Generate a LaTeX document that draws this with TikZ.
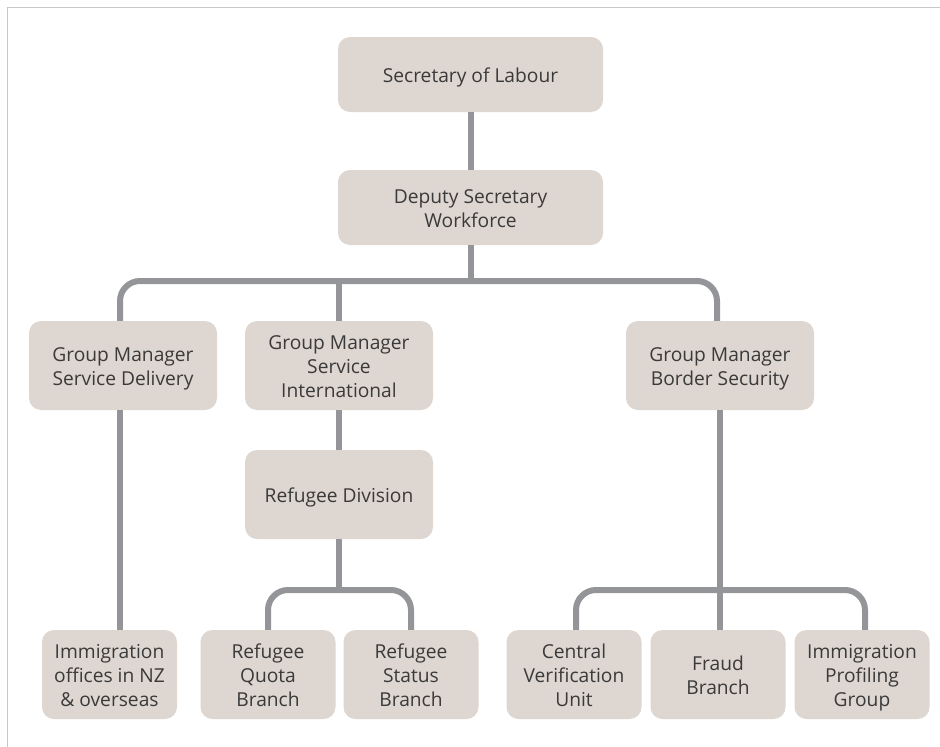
\documentclass[tikz,border=0pt]{standalone}
\usepackage{fontspec}
\setmainfont{Open Sans}
\definecolor{boxfill}{HTML}{DED6D0}
\definecolor{linegray}{HTML}{939598}
\definecolor{framegray}{HTML}{C8C8C8}
\definecolor{txt}{HTML}{3A3A3A}
\newcommand\boxtxt[1]{\raisebox{-3.5pt}[\height][\depth]{\begin{tabular}{@{}c@{}}#1\end{tabular}}}
\begin{document}
\begin{tikzpicture}[x=1pt,y=-1pt,
  orgbox/.style={fill=boxfill, rounded corners=12pt, inner sep=0pt, align=center,
    text=txt, font=\fontsize{19.2}{24}\selectfont},
  wide/.style={minimum width=265pt, minimum height=75pt},
  mid/.style={minimum width=188pt, minimum height=89pt},
  small/.style={minimum width=135pt, minimum height=89pt},
  conn/.style={draw=linegray, line width=6pt},
  bus/.style={conn, rounded corners=20pt}]
\useasboundingbox (0,0) rectangle (940,747);
\draw[framegray, line width=1.2pt] (7.5,747) -- (7.5,7.5) -- (940,7.5);

\node[orgbox,wide] (sec) at (470.5,74.5) {\boxtxt{Secretary of Labour}};
\node[orgbox,wide] (dep) at (470.5,207.5) {\boxtxt{Deputy Secretary\\Workforce}};
\node[orgbox,mid] (gmsd) at (123,365.5) {\boxtxt{Group Manager\\Service Delivery}};
\node[orgbox,mid] (gmsi) at (339,365.5) {\boxtxt{Group Manager\\Service\\International}};
\node[orgbox,mid] (gmbs) at (720,365.5) {\boxtxt{Group Manager\\Border Security}};
\node[orgbox,mid] (rdiv) at (339,494.5) {\boxtxt{Refugee Division}};
\node[orgbox,small] (off) at (109.5,674.5) {\boxtxt{Immigration\\offices in NZ\\\& overseas}};
\node[orgbox,small] (rq) at (268,674.5) {\boxtxt{Refugee\\Quota\\Branch}};
\node[orgbox,small] (rs) at (411,674.5) {\boxtxt{Refugee\\Status\\Branch}};
\node[orgbox,small] (cvu) at (574,674.5) {\boxtxt{Central\\Verification\\Unit}};
\node[orgbox,small] (fraud) at (718,674.5) {\boxtxt{Fraud\\Branch}};
\node[orgbox,small] (ipg) at (862,674.5) {\boxtxt{Immigration\\Profiling\\Group}};

\coordinate (bus1) at (470.5,281);
\coordinate (bus2) at (339,590);
\coordinate (bus3) at (720,590);

\draw[conn] (sec.south) -- (dep.north);
\draw[conn] (dep.south) -- (bus1);
\draw[bus] ([xshift=-3pt]gmsd.north) |- (bus1) -| ([xshift=-3pt]gmbs.north);
\draw[conn] (gmsi.north) -- (gmsi.north |- bus1);
\draw[conn] ([xshift=-3pt]gmsd.south) -- ([xshift=-3pt]gmsd.south |- off.north);
\draw[conn] (gmsi.south) -- (rdiv.north);
\draw[conn] (rdiv.south) -- (bus2);
\draw[bus] (rq.north) |- (bus2) -| (rs.north);
\draw[conn] (gmbs.south) -- (gmbs.south |- fraud.north);
\draw[bus] ([xshift=2pt]cvu.north) |- (bus3) -| ([xshift=3pt]ipg.north);
\end{tikzpicture}
\end{document}
